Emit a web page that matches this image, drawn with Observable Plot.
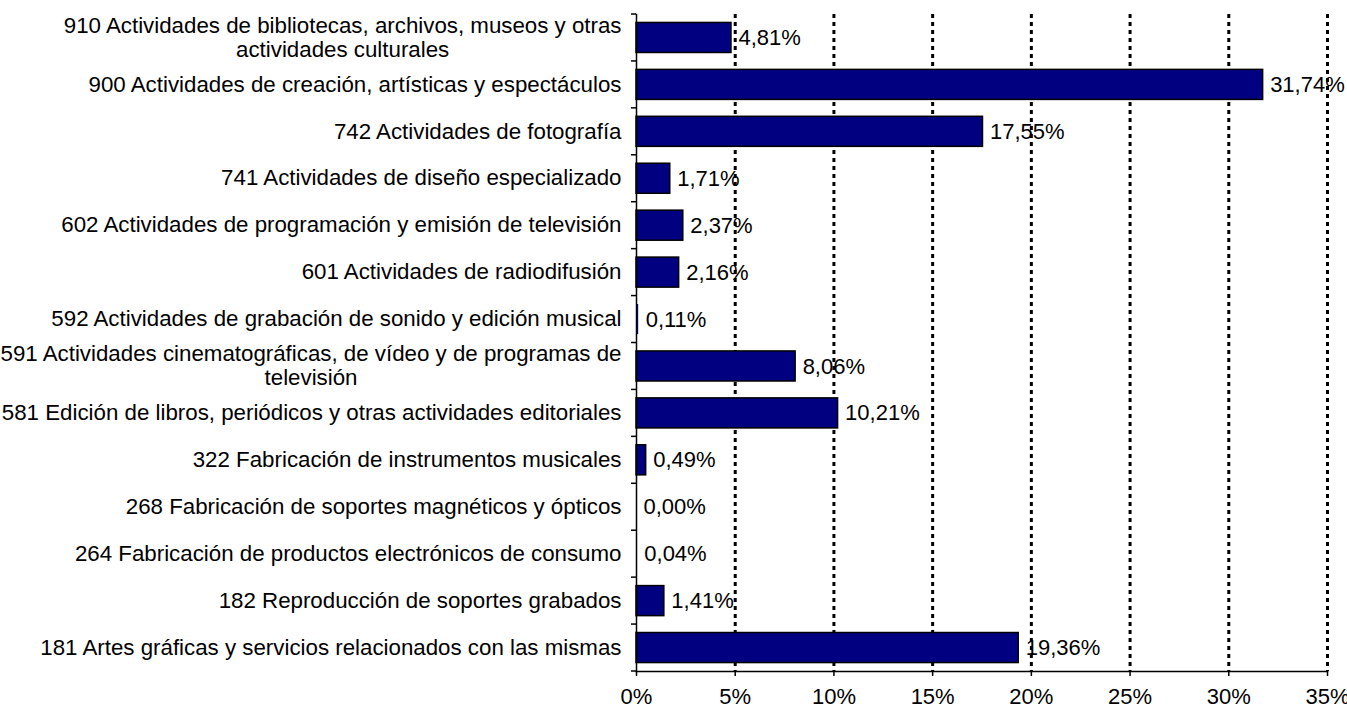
<!DOCTYPE html>
<html>
<head>
<meta charset="utf-8">
<script src="https://cdn.jsdelivr.net/npm/d3@7"></script>
<script src="https://cdn.jsdelivr.net/npm/@observablehq/plot@0.6"></script>
<style>
  html, body { margin: 0; padding: 0; background: #fff; }
  svg { overflow: visible; }
</style>
</head>
<body>
<div id="chart"></div>
<script>
// Categories, top to bottom
const categories = [
  "910", "900", "742", "741", "602", "601", "592",
  "591", "581", "322", "268", "264", "182", "181"
];
const categoryLabels = [
  "910 Actividades de bibliotecas, archivos, museos y otras\nactividades culturales",
  "900 Actividades de creación, artísticas y espectáculos",
  "742 Actividades de fotografía",
  "741 Actividades de diseño especializado",
  "602 Actividades de programación y emisión de televisión",
  "601 Actividades de radiodifusión",
  "592 Actividades de grabación de sonido y edición musical",
  "591 Actividades cinematográficas, de vídeo y de programas de\ntelevisión",
  "581 Edición de libros, periódicos y otras actividades editoriales",
  "322 Fabricación de instrumentos musicales",
  "268 Fabricación de soportes magnéticos y ópticos",
  "264 Fabricación de productos electrónicos de consumo",
  "182 Reproducción de soportes grabados",
  "181 Artes gráficas y servicios relacionados con las mismas"
];
const values = [4.81, 31.74, 17.55, 1.71, 2.37, 2.16, 0.11, 8.06, 10.21, 0.49, 0.00, 0.04, 1.41, 19.36];
const xTicks = [0, 5, 10, 15, 20, 25, 30, 35];
const gridTicks = [5, 10, 15, 20, 25, 30, 35];

const data = categories.map((c, i) => ({cat: c, label: categoryLabels[i], value: values[i]}));
const labelOf = new Map(data.map(d => [d.cat, d.label]));
const fmtPct = v => d3.format(".2f")(v).replace(".", ",") + "%";

const padInner = 0.36;
const fontSize = 22.3;

// boundary ticks on the left of the y axis, derived from the band scale
const boundaryTicks = (index, scales, values_, dimensions) => {
  const y = scales.y;
  const step = y(categories[1]) - y(categories[0]);
  const g = d3.create("svg:g").attr("stroke", "#000").attr("stroke-width", 1.5);
  const xs = dimensions.marginLeft;
  const bounds = categories.map(c => y(c) - step * padInner / 2);
  bounds.push(y(categories[categories.length - 1]) - step * padInner / 2 + step);
  for (const b of bounds) {
    g.append("line").attr("x1", xs - 5).attr("x2", xs).attr("y1", b).attr("y2", b);
  }
  return g.node();
};

const chart = Plot.plot({
  width: 1347,
  height: 714,
  marginLeft: 636,
  marginRight: 20,
  marginTop: 14,
  marginBottom: 43,
  style: {fontFamily: "'Liberation Sans', Arial, sans-serif", fontSize: fontSize + "px", color: "#000", background: "#fff"},
  x: {domain: [0, 35]},
  y: {domain: categories, paddingInner: padInner, paddingOuter: padInner / 2, round: false},
  marks: [
    Plot.gridX(gridTicks, {stroke: "#000", strokeOpacity: 1, strokeWidth: 3, strokeDasharray: "4,4"}),
    Plot.barX(data, {x: "value", y: "cat", fill: "#000080", stroke: d => d.value < 0.2 ? "none" : "#000", strokeWidth: 1.5}),
    Plot.text(data, {x: "value", y: "cat", text: d => fmtPct(d.value), textAnchor: "start", dx: 7, fontSize: 22, fill: "#000"}),
    Plot.frame({anchor: "left", stroke: "#000", strokeWidth: 1.5}),
    Plot.frame({anchor: "bottom", stroke: "#000", strokeWidth: 1.5}),
    boundaryTicks,
    Plot.axisX(xTicks, {tickSize: 5, tickPadding: 12, tickFormat: d => d + "%", fontSize: 22, strokeWidth: 1.5, label: null}),
    Plot.axisY({tickSize: 0, tickPadding: 15, tickFormat: c => labelOf.get(c), fontSize, lineHeight: 1.08, dy: -1, label: null, textOverflow: null})
  ]
});

document.getElementById("chart").appendChild(chart);

// Center multi-line y labels within their own block (block stays right-aligned)
d3.select(chart).selectAll("g[aria-label='y-axis tick label'] text").each(function() {
  const tspans = this.querySelectorAll("tspan");
  if (tspans.length > 1) {
    const w = this.getBBox().width;
    this.setAttribute("text-anchor", "middle");
    tspans.forEach(t => t.setAttribute("x", -w / 2));
  }
});
</script>
</body>
</html>
